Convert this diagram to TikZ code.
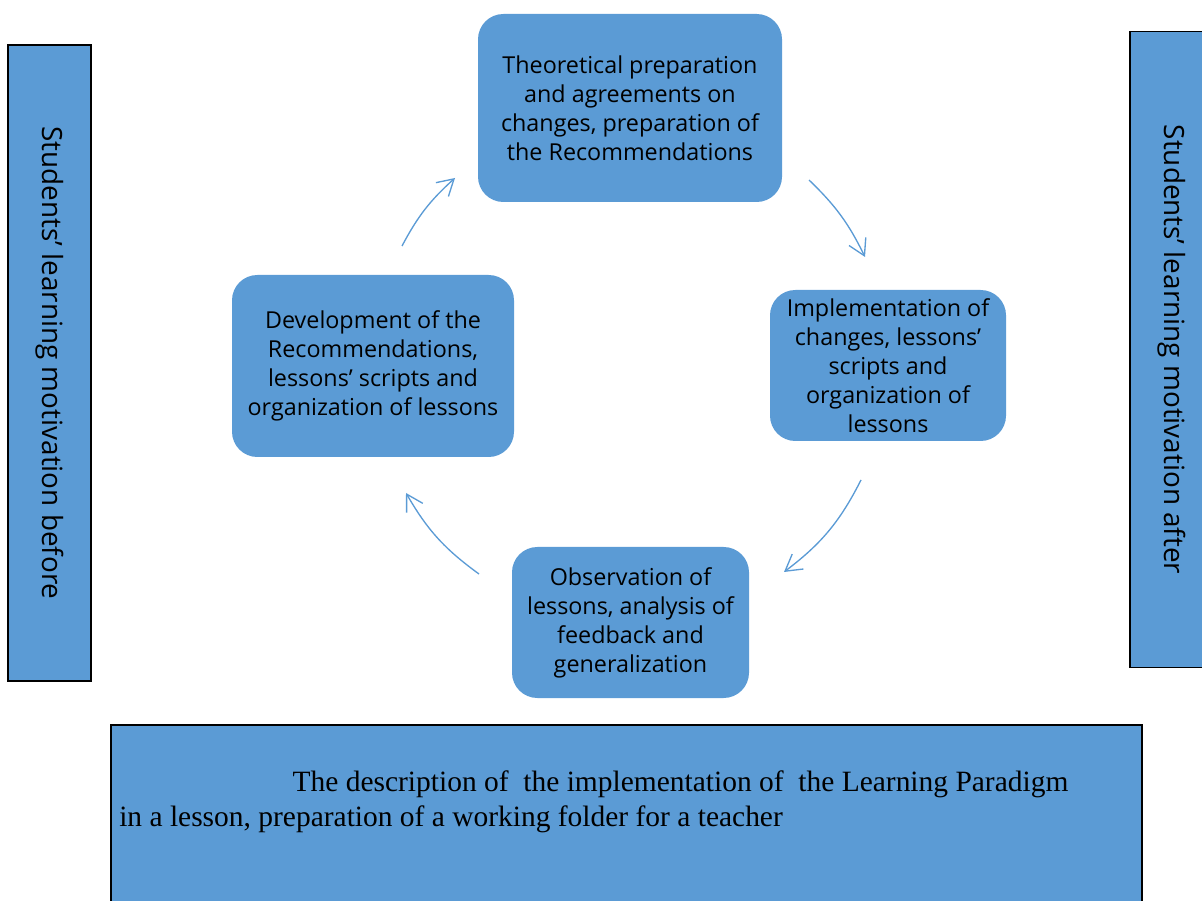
\documentclass[tikz,border=0pt]{standalone}
\usepackage{fontspec}
\setmainfont{Liberation Serif}
\newfontfamily\boxfont{Open Sans}
\usetikzlibrary{positioning,arrows.meta}
\definecolor{lpBlue}{RGB}{91,155,213}
\definecolor{lpArrow}{RGB}{91,155,213}
\tikzset{
    stage/.style={rectangle, rounded corners=19pt, fill=lpBlue, text=black,
                  align=center, inner sep=0pt,
                  font=\boxfont\fontsize{17.5}{21.75}\selectfont},
    sidebar/.style={rectangle, draw=black, line width=1.2pt, fill=lpBlue,
                    rotate=-90, minimum width=477pt, minimum height=62.25pt,
                    inner sep=0pt, font=\boxfont\fontsize{20.9}{25}\selectfont},
    panel/.style={rectangle, draw=black, line width=1.2pt, fill=lpBlue, inner sep=0pt},
    flow/.style={-{Straight Barb[length=12pt,width=14pt]}, lpArrow, line width=1pt}
}
\begin{document}
\begin{tikzpicture}[x=0.75pt, y=0.75pt]
  \useasboundingbox (0,0) rectangle (1202,900);
  \clip (0,0) rectangle (1202,900);

  % motivation bars
  \node[sidebar] (before) at (49.5,537) {Students’ learning motivation before};
  \node[sidebar] (after) at (1171.5,550.5) {Students’ learning motivation after};

  % stages of the cycle
  \node[stage, minimum width=228pt, minimum height=141pt] (prep) at (630,792) {
    Theoretical preparation\\
    and agreements on\\
    changes, preparation of\\
    the Recommendations
  };
  \node[stage, minimum width=177pt, minimum height=113.25pt] (impl) at (888,534.5) {
    Implementation of\\
    changes, lessons’\\
    scripts and\\
    organization of\\
    lessons
  };
  \node[stage, minimum width=177.75pt, minimum height=113.25pt] (obs) at (630.5,277.5) {
    Observation of\\
    lessons, analysis of\\
    feedback and\\
    generalization
  };
  \node[stage, minimum width=211.5pt, minimum height=136.5pt] (dev) at (373,534) {
    Development of the\\
    Recommendations,\\
    lessons’ scripts and\\
    organization of lessons
  };

  % arrows round the cycle
  \coordinate (devOut) at (402,654);
  \coordinate (prepIn) at (455,722);
  \coordinate (prepOut) at (809,720);
  \coordinate (implIn) at (865,643);
  \coordinate (implOut) at (861,420);
  \coordinate (obsIn) at (784,328);
  \coordinate (obsOut) at (479,326);
  \coordinate (devIn) at (406,407);
  \draw[flow] (devOut) to[bend left=10] (prepIn);
  \draw[flow] (prepOut) to[bend left=10] (implIn);
  \draw[flow] (implOut) to[bend left=13] (obsIn);
  \draw[flow] (obsOut) to[bend left=12] (devIn);

  % description panel
  \node[panel, anchor=north west, minimum width=773.25pt, minimum height=140pt] (desc) at (110,176) {};
  \node[anchor=north west, align=left, inner sep=0pt,
        font=\fontsize{22.1}{26.25}\selectfont] (descText) at (119,130) {
    \hspace*{130pt}The description of\ \ the implementation of\ \ the Learning Paradigm\\
    in a lesson, preparation of a working folder for a teacher
  };
\end{tikzpicture}
\end{document}
